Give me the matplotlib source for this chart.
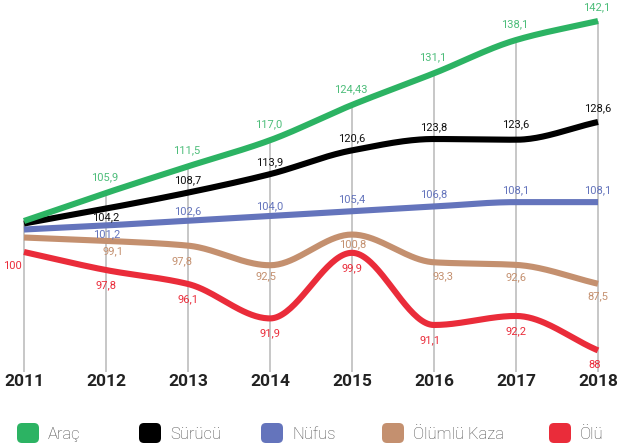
import numpy as np
import matplotlib
matplotlib.use("Agg")
import matplotlib.pyplot as plt
from matplotlib.patches import FancyBboxPatch
from matplotlib.transforms import Affine2D, blended_transform_factory

# ---------------- data ----------------
years = [2011, 2012, 2013, 2014, 2015, 2016, 2017, 2018]
arac = [100, 105.9, 111.5, 117.0, 124.43, 131.1, 138.1, 142.1]
surucu = [100, 104.2, 108.7, 113.9, 120.6, 123.8, 123.6, 128.6]
nufus = [100, 101.2, 102.6, 104.0, 105.4, 106.8, 108.1, 108.1]
olumlu_kaza = [100, 99.1, 97.8, 92.5, 100.8, 93.3, 92.6, 87.5]
olu = [100, 97.8, 96.1, 91.9, 99.9, 91.1, 92.2, 88]
series_names = ["Araç", "Sürücü", "Nüfus", "Ölümlü Kaza", "Ölü"]

# ---------------- style / layout ----------------
W, H, DPI = 619, 448, 100
AX_TOP_PX, AX_BOT_PX = 0, 372
FONT = ["Roboto", "DejaVu Sans"]

# each series gets its own (hidden) value axis: px position of 100 and px per unit
styles = {
    "Araç":        dict(data=arac,        color="#2cb363", lab="#4dbd7a", base=221, ppu=4.75,
                        dy=-16, dx=-1, first=False, over={7: (-1, -14)}),
    "Sürücü":      dict(data=surucu,      color="#000000", lab="#111111", base=223.5, ppu=3.55,
                        dy=-12, dx=0, first=False, over={1: (0, 9), 6: (0, -16), 7: (0, -14)}),
    "Nüfus":       dict(data=nufus,       color="#6474bc", lab="#6474bc", base=229.5, ppu=3.38,
                        dy=-12, dx=0, first=False, over={1: (1, 9), 2: (0, -9), 3: (0, -10)}),
    "Ölümlü Kaza": dict(data=olumlu_kaza, color="#c4906f", lab="#c4906f", base=237.5, ppu=3.70,
                        dy=12, dx=0, first=False,
                        over={1: (7, 10), 2: (-6, 16), 3: (-4, 11), 4: (1, 10), 5: (9, 14)}),
    "Ölü":         dict(data=olu,         color="#ea2c3a", lab="#ea2c3a", base=252, ppu=8.2,
                        dy=15, dx=0, first=True, over={0: (-12, 14), 5: (-4, 15), 7: (-3, 15)}),
}
draw_order = ["Ölü", "Ölümlü Kaza", "Nüfus", "Sürücü", "Araç"]


def pchip(x, y, n=40):
    """Monotone cubic (Fritsch-Carlson) curve through the points."""
    x = np.asarray(x, float)
    y = np.asarray(y, float)
    h = np.diff(x)
    d = np.diff(y) / h
    m = np.zeros_like(y)
    for k in range(1, len(y) - 1):
        if d[k - 1] * d[k] <= 0:
            m[k] = 0.0
        else:
            w1 = 2 * h[k] + h[k - 1]
            w2 = h[k] + 2 * h[k - 1]
            m[k] = (w1 + w2) / (w1 / d[k - 1] + w2 / d[k])
    m[0] = d[0]
    m[-1] = d[-1]
    xs, ys = [], []
    for i in range(len(x) - 1):
        t = np.linspace(0, 1, n, endpoint=False)
        h00 = 2 * t**3 - 3 * t**2 + 1
        h10 = t**3 - 2 * t**2 + t
        h01 = -2 * t**3 + 3 * t**2
        h11 = t**3 - t**2
        xs.append(x[i] + t * h[i])
        ys.append(h00 * y[i] + h10 * h[i] * m[i] + h01 * y[i + 1] + h11 * h[i] * m[i + 1])
    xs.append([x[-1]])
    ys.append([y[-1]])
    return np.concatenate(xs), np.concatenate(ys)


def fmt(v):
    return str(v).replace(".", ",")


fig = plt.figure(figsize=(W / DPI, H / DPI), dpi=DPI)
rect = [0, (H - AX_BOT_PX) / H, 1, (AX_BOT_PX - AX_TOP_PX) / H]
ax = fig.add_axes(rect)
px_per_year = 82.0
ax.set_xlim(2011 - 24 / px_per_year, 2018 + 21 / px_per_year)
ax.set_ylim(0, 1)
for sp in ax.spines.values():
    sp.set_visible(False)
ax.set_yticks([])
ax.set_xticks(years)
ax.set_xticklabels([str(y) for y in years], fontsize=12.5, fontweight="bold",
                   color="#222222", family=FONT)
ax.tick_params(axis="x", length=0, pad=1.5)

axes = {}
for name in draw_order:
    st = styles[name]
    a = fig.add_axes(rect, sharex=ax)
    a.set_axis_off()
    a.patch.set_alpha(0)
    lo = 100 - (AX_BOT_PX - st["base"]) / st["ppu"]
    hi = 100 + (st["base"] - AX_TOP_PX) / st["ppu"]
    a.set_ylim(lo, hi)
    axes[name] = a
top_ax = axes[draw_order[-1]]

# vertical guide lines: from bottom up to the Araç value
ga = axes["Araç"]
blend = blended_transform_factory(ax.transData, ga.transData)
ax.vlines(years, ga.get_ylim()[0], arac, colors="#b8b8b8", lw=1.1,
          transform=blend, zorder=0)

for name in draw_order:
    st = styles[name]
    a = axes[name]
    xs, ys = pchip(years, st["data"])
    a.plot(xs, ys, color=st["color"], lw=4.4, solid_capstyle="butt", zorder=2)

# value labels, all drawn on the top-most axes so no line covers them
for name in draw_order:
    st = styles[name]
    a = axes[name]
    for i, (x, v) in enumerate(zip(years, st["data"])):
        if i == 0 and not st["first"]:
            continue
        dx, dy = st["over"].get(i, (st["dx"], st["dy"]))
        top_ax.annotate(fmt(v), (x, v), xycoords=a.transData,
                        xytext=(dx * 0.72, -dy * 0.72), textcoords="offset points",
                        ha="center", va="center", fontsize=8, color=st["lab"],
                        family=FONT, annotation_clip=False, zorder=5)

# legend (manual, pixel layout)
pix = Affine2D().scale(1 / DPI, -1 / DPI).translate(0, H / DPI) + fig.dpi_scale_trans
marker_x = [17, 139, 261, 382, 549]
for name, mx in zip(series_names, marker_x):
    st = styles[name]
    box = FancyBboxPatch((mx, 423), 22, 20, boxstyle="round,pad=0,rounding_size=5",
                         transform=pix, facecolor=st["color"], edgecolor="none")
    fig.add_artist(box)
    fig.text(mx + 31, 439, name, transform=pix, fontsize=12, fontweight="light",
             color="#4a4a4a", family=FONT, ha="left", va="baseline")

fig.savefig("out.png", dpi=DPI)
